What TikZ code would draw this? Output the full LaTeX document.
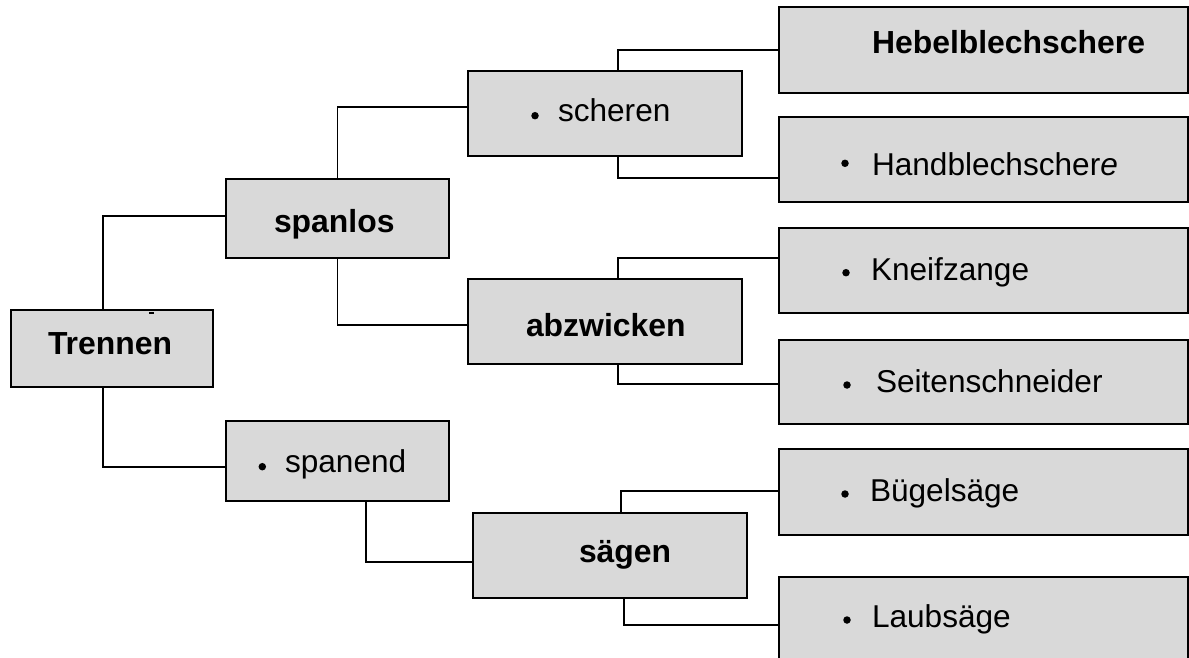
\documentclass[tikz,border=0pt]{standalone}
\usepackage{fontspec}
\setmainfont{Liberation Sans}
\definecolor{boxgray}{HTML}{D9D9D9}
\begin{document}
\begin{tikzpicture}[x=1pt,y=-1pt,
  box/.style={draw=black,fill=boxgray,line width=1.9pt,inner sep=0pt,outer sep=0pt,anchor=north west},
  txt/.style={inner sep=0pt,outer sep=0pt,anchor=base west,font=\fontsize{31.6}{36}\selectfont},
  btxt/.style={txt,font=\fontsize{31.9}{36}\selectfont\bfseries},
  bul/.style={circle,fill=black,inner sep=0pt,minimum size=7.5pt},
  link/.style={draw=black,line width=1.8pt}]
\useasboundingbox (0,0) rectangle (1189,658);
% boxes
\node[box,minimum width=202pt,minimum height=77pt] (trennen) at (11,310) {};
\node[box,minimum width=223pt,minimum height=79pt] (spanlos) at (226,179) {};
\node[box,minimum width=223pt,minimum height=80pt] (spanend) at (226,421) {};
\node[box,minimum width=274pt,minimum height=85pt] (scheren) at (468,71) {};
\node[box,minimum width=274pt,minimum height=85pt] (abzwicken) at (468,279) {};
\node[box,minimum width=274pt,minimum height=85pt] (saegen) at (473,513) {};
\node[box,minimum width=409pt,minimum height=86pt] (hebel) at (779,7) {};
\node[box,minimum width=409pt,minimum height=85pt] (hand) at (779,117) {};
\node[box,minimum width=409pt,minimum height=85pt] (kneif) at (779,228) {};
\node[box,minimum width=409pt,minimum height=84pt] (seiten) at (779,340) {};
\node[box,minimum width=409pt,minimum height=86pt] (buegel) at (779,449) {};
\node[box,minimum width=409pt,minimum height=93pt] (laub) at (779,577) {};
% texts
\node[btxt] (t-trennen) at (48,354) {Trennen};
\node[btxt] (t-spanlos) at (274,232) {spanlos};
\node[txt] (t-spanend) at (285,472.7) {spanend};
\node[txt] (t-scheren) at (558,122) {scheren};
\node[btxt] (t-abzwicken) at (526,336) {abzwicken};
\node[btxt] (t-saegen) at (579,562) {sägen};
\node[btxt] (t-hebel) at (872,54) {Hebelblechschere};
\node[txt] (t-hand) at (872,175.7) {Handblechscher\textit{e}};
\node[txt] (t-kneif) at (871,280) {Kneifzange};
\node[txt] (t-seiten) at (876,392.7) {Seitenschneider};
\node[txt] (t-buegel) at (870,501) {Bügelsäge};
\node[txt] (t-laub) at (872,627) {Laubsäge};
% bullets
\node[bul] (b-spanend) at (262.3,466.7) {};
\node[bul] (b-scheren) at (535,115.7) {};
\node[bul] (b-hand) at (845,163.3) {};
\node[bul] (b-kneif) at (846,272.7) {};
\node[bul] (b-seiten) at (847,385) {};
\node[bul] (b-buegel) at (845,494) {};
\node[bul] (b-laub) at (847,620) {};
% connectors
\draw[link] ([xshift=92pt]trennen.north west) |- ([yshift=2.5pt]spanlos.west);
\draw[link] ([xshift=92pt]trennen.south west) |- ([yshift=-6pt]spanend.west);
\draw[link] (spanlos.north) |- ([yshift=6.5pt]scheren.west);
\draw[link] (spanlos.south) |- ([yshift=-3.5pt]abzwicken.west);
\draw[link] ([xshift=150pt]scheren.north west) |- (hebel.west);
\draw[link] ([xshift=150pt]scheren.south west) |- ([yshift=-18.5pt]hand.west);
\draw[link] ([xshift=150pt]abzwicken.north west) |- ([yshift=12.5pt]kneif.west);
\draw[link] ([xshift=150pt]abzwicken.south west) |- ([yshift=-2pt]seiten.west);
\draw[link] ([xshift=140pt]spanend.south west) |- ([yshift=-6.5pt]saegen.west);
\draw[link] ([xshift=148pt]saegen.north west) |- ([yshift=1pt]buegel.west);
\draw[link] ([xshift=151pt]saegen.south west) |- ([yshift=-1.5pt]laub.west);
% small mark on the top edge of Trennen
\draw[line width=1.5pt] ([xshift=138pt,yshift=-3pt]trennen.north west) -- ([xshift=143pt,yshift=-3pt]trennen.north west);
\end{tikzpicture}
\end{document}
